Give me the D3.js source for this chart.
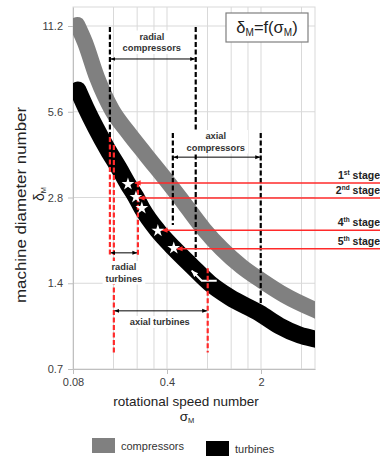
<!DOCTYPE html>
<html>
<head>
<meta charset="utf-8">
<script src="https://cdn.jsdelivr.net/npm/d3@7"></script>
<style>
  body { margin: 0; background: #fff; }
  text { font-family: Arial, "Liberation Sans", sans-serif; }
</style>
</head>
<body>
<div id="chart"></div>
<script>
// axis ticks
var xTicks = [0.08, 0.4, 2];
var xMinor = [0.16, 0.24, 0.32, 0.8, 1.2, 1.6, 4];
var yTicks = [0.7, 1.4, 2.8, 5.6, 11.2];

// compressor band (centre line)
var compSigma = [0.086, 0.098, 0.121, 0.156, 0.205, 0.279, 0.41, 0.54, 0.75, 1.02, 1.44, 2.02, 3.0, 5.0, 7.0];
var compDelta = [11.3, 9.84, 7.36, 5.68, 4.75, 3.95, 3.15, 2.66, 2.17, 1.85, 1.6, 1.43, 1.27, 1.13, 1.06];

// turbine band (centre line)
var turbSigma = [0.087, 0.1, 0.1185, 0.1455, 0.1756, 0.205, 0.235, 0.26, 0.342, 0.449, 0.611, 0.831, 1.17, 1.95, 2.75, 3.87, 5.04, 7.0];
var turbDelta = [6.68, 5.77, 4.91, 4.11, 3.55, 3.12, 2.81, 2.57, 2.14, 1.86, 1.61, 1.40, 1.25, 1.10, 0.991, 0.921, 0.892, 0.864];

// stage points (stars)
var starSigma = [0.205, 0.235, 0.26, 0.342, 0.449];
var starDelta = [3.12, 2.81, 2.57, 2.14, 1.86];

// stage lines
var stageNum = ["1", "2", "4", "5"];
var stageSup = ["st", "nd", "th", "th"];
var stageDelta = [3.15, 2.79, 2.15, 1.85];
var stageTip = [0.231, 0.247, 0.366, 0.473];

// application ranges (sigma)
var radialComp = [0.1505, 0.654];
var axialComp = [0.442, 1.99];
var radialTurb = [0.1505, 0.243];
var axialTurb = [0.161, 0.803];

var legendNames = ["compressors", "turbines"];

var svgWidth = 380, svgHeight = 457;
var plot = {left: 73, top: 7, right: 315, bottom: 369};

var svg = d3.select("#chart").append("svg")
  .attr("width", svgWidth)
  .attr("height", svgHeight);

var x = d3.scaleLog().domain([0.08, 5.04]).range([plot.left, plot.right]);
var y = d3.scaleLog().base(2).domain([0.7, 13.06]).range([plot.bottom, plot.top]);

var defs = svg.append("defs");
defs.append("clipPath").attr("id", "clip")
  .append("rect")
  .attr("x", plot.left).attr("y", plot.top)
  .attr("width", plot.right - plot.left).attr("height", plot.bottom - plot.top);

function marker(id, color, size) {
  defs.append("marker")
    .attr("id", id)
    .attr("viewBox", "0 0 10 10")
    .attr("refX", 9).attr("refY", 5)
    .attr("markerWidth", size).attr("markerHeight", size)
    .attr("orient", "auto-start-reverse")
    .append("path")
    .attr("d", "M0,1L10,5L0,9Z")
    .attr("fill", color);
}
marker("arrBlack", "#000", 5);
marker("arrRed", "#ff2a2a", 4);
marker("arrWhite", "#fff", 3.5);

// gridlines
var grid = svg.append("g");
grid.selectAll("line.v")
  .data(xMinor.concat(xTicks.slice(1)))
  .enter().append("line")
  .attr("x1", d => x(d)).attr("x2", d => x(d))
  .attr("y1", plot.top).attr("y2", plot.bottom)
  .attr("stroke", "#d9d9d9").attr("stroke-width", 1);
grid.selectAll("line.h")
  .data(yTicks.slice(1))
  .enter().append("line")
  .attr("x1", plot.left).attr("x2", plot.right)
  .attr("y1", d => y(d)).attr("y2", d => y(d))
  .attr("stroke", "#d9d9d9").attr("stroke-width", 1);

svg.append("rect")
  .attr("x", plot.left).attr("y", plot.top)
  .attr("width", plot.right - plot.left).attr("height", plot.bottom - plot.top)
  .attr("fill", "none").attr("stroke", "#d9d9d9");

// axes
var yAxis = svg.append("g")
  .attr("transform", "translate(" + plot.left + ",0)")
  .call(d3.axisLeft(y).tickValues(yTicks).tickFormat(d => d).tickSize(5).tickSizeOuter(0).tickPadding(5));
var xAxis = svg.append("g")
  .attr("transform", "translate(0," + plot.bottom + ")")
  .call(d3.axisBottom(x).tickValues(xTicks).tickFormat(d => d).tickSize(5).tickSizeOuter(0).tickPadding(4));
[yAxis, xAxis].forEach(function(a) {
  a.select(".domain").attr("stroke", "#bfbfbf");
  a.selectAll(".tick line").attr("stroke", "#bfbfbf");
  a.selectAll(".tick text").attr("fill", "#404040").attr("font-size", 11)
    .attr("font-family", "Arial, 'Liberation Sans', sans-serif");
});

// bands
var line = d3.line()
  .x(d => x(d[0]))
  .y(d => y(d[1]))
  .curve(d3.curveMonotoneX);

var bands = svg.append("g").attr("clip-path", "url(#clip)");
bands.append("path")
  .datum(compSigma.map((s, i) => [s, compDelta[i]]))
  .attr("d", line)
  .attr("fill", "none").attr("stroke", "#808080")
  .attr("stroke-width", 16).attr("stroke-linecap", "round").attr("stroke-linejoin", "round");
bands.append("path")
  .datum(turbSigma.map((s, i) => [s, turbDelta[i]]))
  .attr("d", line)
  .attr("fill", "none").attr("stroke", "#000")
  .attr("stroke-width", 17).attr("stroke-linecap", "round").attr("stroke-linejoin", "round");

// white direction arrow on the turbine band
svg.append("path")
  .attr("d", d3.line()([[x(0.937), y(1.43)], [x(0.725), y(1.43)], [x(0.611), y(1.55)]]))
  .attr("fill", "none").attr("stroke", "#fff").attr("stroke-width", 2)
  .attr("marker-end", "url(#arrWhite)");

// dashed range borders
function vline(s, d1, d2, color) {
  svg.append("line")
    .attr("x1", x(s)).attr("x2", x(s))
    .attr("y1", y(d1)).attr("y2", y(d2))
    .attr("stroke", color).attr("stroke-width", 2.2)
    .attr("stroke-dasharray", "5,2.5");
}
vline(radialComp[0], 11.1, 4.57, "#000");
vline(radialComp[1], 11.1, 1.73, "#000");
vline(axialComp[0], 4.72, 2.24, "#000");
vline(axialComp[1], 4.72, 1.19, "#000");
vline(radialTurb[0], 4.57, 1.76, "#ff2a2a");
vline(axialTurb[0], 4.28, 0.80, "#ff2a2a");
vline(radialTurb[1], 3.17, 1.73, "#ff2a2a");
vline(axialTurb[1], 1.58, 0.80, "#ff2a2a");

// range arrows
function harrow(r, d) {
  svg.append("line")
    .attr("x1", x(r[0]) + 1).attr("x2", x(r[1]) - 1)
    .attr("y1", y(d)).attr("y2", y(d))
    .attr("stroke", "#000").attr("stroke-width", 1)
    .attr("marker-start", "url(#arrBlack)").attr("marker-end", "url(#arrBlack)");
}
harrow(radialComp, 8.58);
harrow(axialComp, 3.88);
harrow(radialTurb, 1.79);
harrow(axialTurb, 1.12);

// stage lines
stageDelta.forEach(function(d, i) {
  svg.append("line")
    .attr("x1", svgWidth).attr("x2", x(stageTip[i]))
    .attr("y1", y(d)).attr("y2", y(d))
    .attr("stroke", "#ff2a2a").attr("stroke-width", 1.6)
    .attr("marker-end", "url(#arrRed)");
  var t = svg.append("text")
    .attr("x", svgWidth).attr("y", y(d) - 4)
    .attr("text-anchor", "end")
    .attr("font-size", 10.5).attr("font-weight", "bold").attr("fill", "#222");
  t.append("tspan").text(stageNum[i]);
  t.append("tspan").attr("font-size", 6.5).attr("dy", -4).text(stageSup[i]);
  t.append("tspan").attr("dy", 4).text(" stage");
});

// stars
svg.append("g").selectAll("path")
  .data(starSigma.map((s, i) => [s, starDelta[i]]))
  .enter().append("path")
  .attr("transform", d => "translate(" + x(d[0]) + "," + y(d[1]) + ")")
  .attr("d", d3.symbol().type(d3.symbolStar).size(50))
  .attr("fill", "#fff");

// range labels with white background
function label(lines, cx, baseY) {
  var g = svg.append("g");
  var t = g.append("text")
    .attr("text-anchor", "middle")
    .attr("font-size", 9.3).attr("font-weight", "bold").attr("fill", "#333");
  lines.forEach(function(l, i) {
    t.append("tspan").attr("x", cx).attr("y", baseY + i * 11.5).text(l);
  });
  var b = t.node().getBBox();
  g.insert("rect", "text")
    .attr("x", b.x - 3).attr("y", b.y - 1)
    .attr("width", b.width + 6).attr("height", b.height + 2)
    .attr("fill", "#fff");
}
label(["radial", "compressors"], (x(radialComp[0]) + x(radialComp[1])) / 2 - 1, 39.5);
label(["axial", "compressors"], (x(axialComp[0]) + x(axialComp[1])) / 2 - 1, 139);
label(["radial", "turbines"], (x(radialTurb[0]) + x(radialTurb[1])) / 2, 270);
label(["axial turbines"], (x(axialTurb[0]) + x(axialTurb[1])) / 2 - 1, 325);

// formula box
svg.append("rect")
  .attr("x", 226).attr("y", 13).attr("width", 82).attr("height", 29)
  .attr("fill", "#fff").attr("stroke", "#7f7f7f").attr("stroke-width", 1.2);
var f = svg.append("text")
  .attr("x", 267).attr("y", 33)
  .attr("text-anchor", "middle")
  .attr("font-size", 16.5).attr("fill", "#222");
f.append("tspan").text("δ");
f.append("tspan").attr("font-size", 10).attr("dy", 3).text("M");
f.append("tspan").attr("dy", -3).text("=f(σ");
f.append("tspan").attr("font-size", 10).attr("dy", 3).text("M");
f.append("tspan").attr("dy", -3).text(")");

// axis titles
svg.append("text")
  .attr("x", 186).attr("y", 406)
  .attr("text-anchor", "middle")
  .attr("font-size", 13.5).attr("fill", "#222")
  .text("rotational speed number");
var xs = svg.append("text")
  .attr("x", 187).attr("y", 421)
  .attr("text-anchor", "middle")
  .attr("font-size", 13.5).attr("fill", "#222");
xs.append("tspan").text("σ");
xs.append("tspan").attr("font-size", 7.5).attr("dy", 2).text("M");

svg.append("text")
  .attr("transform", "translate(26,205) rotate(-90)")
  .attr("text-anchor", "middle")
  .attr("font-size", 14).attr("fill", "#222")
  .attr("textLength", 196).attr("lengthAdjust", "spacingAndGlyphs")
  .text("machine diameter number");
var ys = svg.append("text")
  .attr("transform", "translate(44,194) rotate(-90)")
  .attr("text-anchor", "middle")
  .attr("font-size", 14).attr("fill", "#222");
ys.append("tspan").text("δ");
ys.append("tspan").attr("font-size", 7.5).attr("dy", 2).text("M");

// legend
var legColors = ["#808080", "#000"];
var legX = [92, 206], legY = [438, 441];
legendNames.forEach(function(n, i) {
  svg.append("rect")
    .attr("x", legX[i]).attr("y", legY[i])
    .attr("width", 23).attr("height", 15)
    .attr("fill", legColors[i]);
  svg.append("text")
    .attr("x", legX[i] + 29).attr("y", legY[i] + 12)
    .attr("font-size", 11).attr("fill", "#333")
    .text(n);
});
</script>
</body>
</html>
